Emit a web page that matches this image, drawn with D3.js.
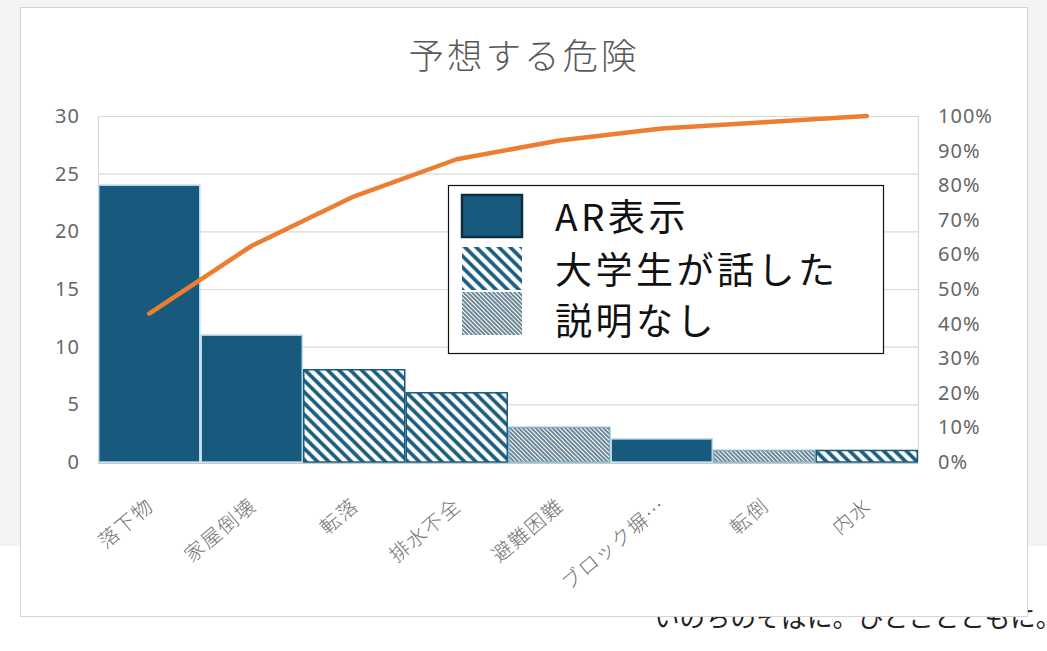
<!DOCTYPE html>
<html><head><meta charset="utf-8">
<script src="https://cdn.jsdelivr.net/npm/d3@7"></script>
<style>html,body{margin:0;padding:0;background:#fff;}svg{display:block;}</style>
</head><body>
<svg id="c" width="1047" height="651"></svg>
<script>
const title = "予想する危険";
const categories = ["落下物","家屋倒壊","転落","排水不全","避難困難","ブロック塀…","転倒","内水"];
const counts = [24, 11, 8, 6, 3, 2, 1, 1];
const groups = ["AR表示","AR表示","大学生が話した","大学生が話した","説明なし","AR表示","説明なし","大学生が話した"];
const cumulativePct = [42.9, 62.5, 76.8, 87.5, 92.9, 96.4, 98.2, 100];
const legendItems = ["AR表示","大学生が話した","説明なし"];
const leftTicks = [0, 5, 10, 15, 20, 25, 30];
const rightTicks = [0,10,20,30,40,50,60,70,80,90,100];
const footerText = "いのちのそばに。ひとことともに。";

const svg = d3.select("#c");
const W = 1047, H = 651;
const M = {left: 98, right: 918, top: 116, bottom: 462};
const jp = "'Noto Sans CJK JP','Noto Sans',sans-serif";
const num = "'Noto Sans','Liberation Sans',sans-serif";
const blue = "#175a7e";

// defs / patterns
const defs = svg.append("defs");
const pw = defs.append("pattern").attr("id","wide").attr("patternUnits","userSpaceOnUse")
  .attr("width",8).attr("height",8).attr("patternTransform","rotate(-45)");
pw.append("rect").attr("width",8).attr("height",8).attr("fill","#fff");
pw.append("line").attr("x1",2).attr("x2",2).attr("y1",0).attr("y2",8).attr("stroke",blue).attr("stroke-width",3.6);
const pf = defs.append("pattern").attr("id","fine").attr("patternUnits","userSpaceOnUse")
  .attr("width",3).attr("height",3).attr("patternTransform","rotate(-45)");
pf.append("rect").attr("width",3).attr("height",3).attr("fill","#fff");
pf.append("line").attr("x1",1).attr("x2",1).attr("y1",0).attr("y2",3).attr("stroke","#3b5f72").attr("stroke-width",1.5);

const fillFor = g => g === "AR表示" ? blue : (g === "大学生が話した" ? "url(#wide)" : "url(#fine)");
const strokeFor = g => g === "AR表示" ? "#b9d8e6" : (g === "大学生が話した" ? blue : "#7fb3c9");

// background
svg.append("rect").attr("width",W).attr("height",H).attr("fill","#fff");
svg.append("rect").attr("width",W).attr("height",546).attr("fill","#f3f3f3");
svg.append("text").attr("x",654).attr("y",627).attr("font-family",jp).attr("font-size",25.5)
  .attr("fill","#222").text(footerText);
svg.append("rect").attr("x",20.5).attr("y",7.5).attr("width",1007).attr("height",609)
  .attr("fill","#fff").attr("stroke","#d4d4d4");

// title
svg.append("text").attr("x",524).attr("y",69).attr("text-anchor","middle")
  .attr("font-family",jp).attr("font-weight",300).attr("font-size",35.5).attr("letter-spacing",3)
  .attr("fill","#595959").text(title);

// scales
const x = d3.scaleBand().domain(categories).range([M.left, M.right]).padding(0);
const y = d3.scaleLinear().domain([0,30]).range([M.bottom, M.top]);
const y2 = d3.scaleLinear().domain([0,100]).range([M.bottom, M.top]);

// grid
svg.append("g").selectAll("line").data(leftTicks.filter(d=>d>0)).join("line")
  .attr("x1",M.left).attr("x2",M.right).attr("y1",d=>y(d)+0.5).attr("y2",d=>y(d)+0.5)
  .attr("stroke","#d9d9d9").attr("stroke-width",1.2);
svg.append("line").attr("x1",M.left+0.5).attr("x2",M.left+0.5).attr("y1",M.top).attr("y2",M.bottom).attr("stroke","#d9d9d9").attr("stroke-width",1.2);
svg.append("line").attr("x1",M.right+0.5).attr("x2",M.right+0.5).attr("y1",M.top).attr("y2",M.bottom).attr("stroke","#d9d9d9").attr("stroke-width",1.2);
svg.append("line").attr("x1",M.left).attr("x2",M.right).attr("y1",M.bottom+1.5).attr("y2",M.bottom+1.5).attr("stroke","#c8c8c8").attr("stroke-width",1.2);

// axes
const axL = svg.append("g").attr("transform",`translate(${M.left-18},0)`)
  .call(d3.axisLeft(y).tickValues(leftTicks).tickSize(0).tickPadding(0));
const axR = svg.append("g").attr("transform",`translate(${M.right+20},0)`)
  .call(d3.axisRight(y2).tickValues(rightTicks).tickSize(0).tickPadding(0).tickFormat(d=>d+"%"));
[axL, axR].forEach(a => {
  a.select(".domain").remove();
  a.selectAll("text").attr("font-family",num).attr("font-size",20).attr("letter-spacing",1).attr("fill","#666");
});

// bars
svg.append("g").selectAll("rect").data(categories).join("rect")
  .attr("x",(d)=>x(d)+0.75).attr("width",x.bandwidth()-1.5)
  .attr("y",(d,i)=>y(counts[i])).attr("height",(d,i)=>M.bottom-y(counts[i]))
  .attr("fill",(d,i)=>fillFor(groups[i])).attr("stroke",(d,i)=>strokeFor(groups[i])).attr("stroke-width",1.5);

// x labels
svg.append("g").selectAll("text").data(categories).join("text")
  .attr("transform",d=>`translate(${x(d)+x.bandwidth()/2+6},${508}) rotate(-40)`)
  .attr("text-anchor","end").attr("font-family",jp).attr("font-weight",300).attr("font-size",20)
  .attr("letter-spacing",1.5).attr("fill","#737373").text(d=>d);

// pareto line
const line = d3.line().x((d,i)=>x(categories[i])+x.bandwidth()/2).y(d=>y2(d));
svg.append("path").datum(cumulativePct).attr("d",line).attr("fill","none")
  .attr("stroke","#ed7d31").attr("stroke-width",4.5).attr("stroke-linejoin","round").attr("stroke-linecap","round");

// legend
const lg = svg.append("g");
lg.append("rect").attr("x",448.5).attr("y",185.5).attr("width",435).attr("height",168)
  .attr("fill","#fff").attr("stroke","#111").attr("stroke-width",1.2);
const sw = [{y:195,h:42},{y:247,h:43},{y:292,h:43}];
lg.selectAll("rect.sw").data(legendItems).join("rect").attr("class","sw")
  .attr("x",462).attr("y",(d,i)=>sw[i].y).attr("width",60).attr("height",(d,i)=>sw[i].h)
  .attr("fill",d=>fillFor(d)).attr("stroke",d=>d==="AR表示"?"#0b2f45":"none").attr("stroke-width",2.5);
const ty = [231, 284, 335];
lg.selectAll("text").data(legendItems).join("text")
  .attr("x",555).attr("y",(d,i)=>ty[i]).attr("font-family",jp).attr("font-size",37)
  .attr("letter-spacing",3.5).attr("fill","#111").text(d=>d);
</script>
</body></html>
